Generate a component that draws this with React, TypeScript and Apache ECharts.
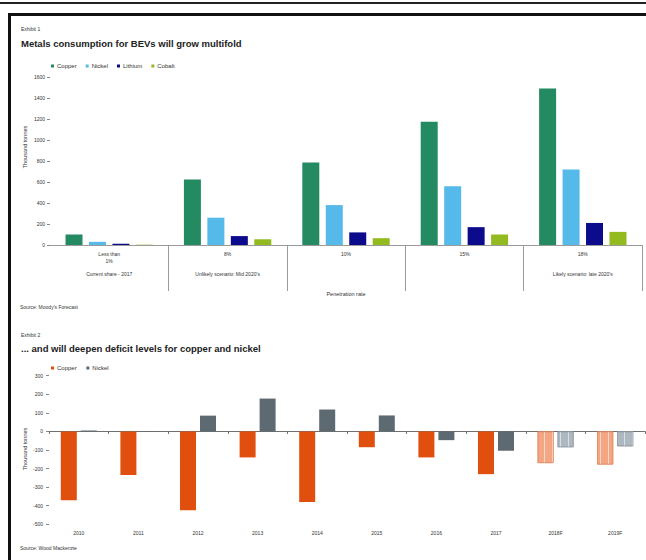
import { useEffect, useRef } from "react";
import * as echarts from "echarts";

// Exhibit 1: metal demand from battery electric vehicles by penetration rate
const penetrationRates = ["Less than\n1%", "8%", "10%", "15%", "18%"];
const scenarios = ["Current share - 2017", "Unlikely scenario: Mid 2020's", "", "", "Likely scenario: late 2020's"];
const copperDemand = [100, 625, 785, 1175, 1490];
const nickelDemand = [30, 260, 380, 560, 720];
const lithiumDemand = [12, 85, 120, 170, 210];
const cobaltDemand = [3, 55, 65, 100, 125];
const demandAxis = { min: 0, max: 1600, interval: 200 };

// Exhibit 2: market balance (deficit / surplus) per year
const years = ["2010", "2011", "2012", "2013", "2014", "2015", "2016", "2017", "2018F", "2019F"];
const forecastYears = ["2018F", "2019F"];
const copperBalance = [-370, -235, -425, -140, -380, -85, -140, -230, -170, -178];
const nickelBalance = [5, 2, 85, 177, 118, 86, -47, -104, -85, -80];
const balanceAxis = { min: -500, max: 300, interval: 100 };

const FONT = "'Liberation Sans Narrow', 'Liberation Sans', Arial, sans-serif";
const INK = "#333";

const COLORS = {
  copper: "#248a62",
  nickel: "#55b9ea",
  lithium: "#0b0b8c",
  cobalt: "#93bb1f",
  copperBal: "#e04f0e",
  nickelBal: "#5e6a72",
  copperFc: "#f2a683",
  copperFcEdge: "#e2845a",
  nickelFc: "#adb8c0",
  nickelFcEdge: "#8d99a1",
};

function buildOption(): echarts.EChartsCoreOption {
  const small = { fontFamily: FONT, fontSize: 5, color: INK };
  const plainNumber = (v: number) => String(v);

  const balanceData = (values: number[], base: string, fc: string, edge: string) =>
    values.map((v, i) =>
      forecastYears.includes(years[i])
        ? {
            value: v,
            itemStyle: {
              color: fc,
              borderColor: edge,
              borderWidth: 0.6,
              decal: {
                symbol: "rect",
                symbolSize: 1,
                color: "rgba(255,255,255,0.55)",
                dashArrayX: [1, 7],
                dashArrayY: [10, 0],
              },
            },
          }
        : { value: v, itemStyle: { color: base } }
    );

  const legendText = { ...small, fontSize: 6, padding: [0, 0, 0, -2] };

  return {
    animation: false,
    backgroundColor: "#fff",
    textStyle: { fontFamily: FONT },
    grid: [
      { left: 50, right: 4, top: 77, height: 168 },
      { left: 49, right: 1, top: 375.7, height: 148.6 },
    ],
    legend: [
      {
        data: ["Copper", "Nickel", "Lithium", "Cobalt"],
        left: 46,
        top: 58,
        icon: "rect",
        itemWidth: 3,
        itemHeight: 3,
        itemGap: 9,
        textStyle: legendText,
      },
      {
        data: ["Copper ", "Nickel "],
        left: 46,
        top: 360,
        icon: "rect",
        itemWidth: 3,
        itemHeight: 3,
        itemGap: 8,
        textStyle: legendText,
      },
    ],
    xAxis: [
      {
        gridIndex: 0,
        type: "category",
        data: penetrationRates,
        axisLine: { lineStyle: { color: "#9a9a9a", width: 1 } },
        axisTick: {
          show: true,
          interval: (index: number) => index > 0,
          length: 46,
          lineStyle: { color: "#9a9a9a" },
        },
        axisLabel: {
          ...small,
          interval: 0,
          margin: 6,
          lineHeight: 6.5,
          formatter: (value: string, index: number) => {
            const scenario = scenarios[index];
            if (!scenario) return value;
            const lines = value.split("\n").length;
            return value + "\n".repeat(4 - lines) + scenario;
          },
        },
        name: "Penetration rate",
        nameLocation: "middle",
        nameGap: 46,
        nameTextStyle: { ...small, fontSize: 5.5 },
      },
      {
        gridIndex: 1,
        type: "category",
        data: years,
        axisLine: { onZero: true, lineStyle: { color: "#6f6f6f", width: 1 } },
        axisTick: { show: true, length: 2.5, lineStyle: { color: "#6f6f6f" } },
        axisLabel: { show: false },
      },
      {
        gridIndex: 1,
        type: "category",
        data: years,
        position: "bottom",
        axisLine: { show: false, onZero: false },
        axisTick: { show: false },
        axisLabel: { ...small, interval: 0, margin: 6.5 },
      },
    ],
    yAxis: [
      {
        gridIndex: 0,
        type: "value",
        ...demandAxis,
        axisLine: { show: false },
        axisTick: { show: true, length: 3, lineStyle: { color: "#888" } },
        splitLine: { show: false },
        axisLabel: { ...small, margin: 5, formatter: plainNumber },
      },
      {
        gridIndex: 1,
        type: "value",
        ...balanceAxis,
        axisLine: { show: false },
        axisTick: { show: true, length: 3, lineStyle: { color: "#888" } },
        splitLine: { show: false },
        axisLabel: { ...small, margin: 6, formatter: plainNumber },
      },
    ],
    series: [
      { name: "Copper", type: "bar", xAxisIndex: 0, yAxisIndex: 0, data: copperDemand, itemStyle: { color: COLORS.copper }, barWidth: 17, barGap: "38%" },
      { name: "Nickel", type: "bar", xAxisIndex: 0, yAxisIndex: 0, data: nickelDemand, itemStyle: { color: COLORS.nickel }, barWidth: 17, barGap: "38%" },
      { name: "Lithium", type: "bar", xAxisIndex: 0, yAxisIndex: 0, data: lithiumDemand, itemStyle: { color: COLORS.lithium }, barWidth: 17, barGap: "38%" },
      { name: "Cobalt", type: "bar", xAxisIndex: 0, yAxisIndex: 0, data: cobaltDemand, itemStyle: { color: COLORS.cobalt }, barWidth: 17, barGap: "38%" },
      {
        name: "Copper ",
        type: "bar",
        xAxisIndex: 1,
        yAxisIndex: 1,
        data: balanceData(copperBalance, COLORS.copperBal, COLORS.copperFc, COLORS.copperFcEdge),
        itemStyle: { color: COLORS.copperBal },
        barWidth: 16,
        barGap: "25%",
      },
      {
        name: "Nickel ",
        type: "bar",
        xAxisIndex: 1,
        yAxisIndex: 1,
        data: balanceData(nickelBalance, COLORS.nickelBal, COLORS.nickelFc, COLORS.nickelFcEdge),
        itemStyle: { color: COLORS.nickelBal },
        barWidth: 16,
        barGap: "25%",
      },
    ],
    graphic: [
      // page rule and framed panel
      { type: "line", shape: { x1: 0, y1: 3, x2: 646, y2: 3 }, style: { stroke: "#222", lineWidth: 2 } },
      { type: "line", shape: { x1: 8, y1: 14.5, x2: 646, y2: 14.5 }, style: { stroke: "#111", lineWidth: 3 } },
      { type: "line", shape: { x1: 9.5, y1: 13, x2: 9.5, y2: 560 }, style: { stroke: "#111", lineWidth: 3 } },
      // Exhibit 1 headings
      { type: "text", x: 21, y: 29, style: { text: "Exhibit 1", fontFamily: FONT, fontSize: 5, fill: INK, verticalAlign: "middle" } },
      {
        type: "text",
        x: 21,
        y: 43,
        style: { text: "Metals consumption for BEVs will grow multifold", fontFamily: FONT, fontSize: 9.5, fontWeight: "bold", fill: "#222", verticalAlign: "middle" },
      },
      {
        type: "text",
        x: 25,
        y: 147,
        rotation: Math.PI / 2,
        style: { text: "Thousand tonnes", fontFamily: FONT, fontSize: 5.5, fill: INK, align: "center", verticalAlign: "middle" },
      },
      { type: "text", x: 20, y: 307, style: { text: "Source: Moody's Forecast", fontFamily: FONT, fontSize: 5, fill: INK, verticalAlign: "middle" } },
      // Exhibit 2 headings
      { type: "text", x: 21, y: 335, style: { text: "Exhibit 2", fontFamily: FONT, fontSize: 5, fill: INK, verticalAlign: "middle" } },
      {
        type: "text",
        x: 21,
        y: 348,
        style: { text: "... and will deepen deficit levels for copper and nickel", fontFamily: FONT, fontSize: 9.5, fontWeight: "bold", fill: "#222", verticalAlign: "middle" },
      },
      {
        type: "text",
        x: 25,
        y: 449,
        rotation: Math.PI / 2,
        style: { text: "Thousand tonnes", fontFamily: FONT, fontSize: 5.5, fill: INK, align: "center", verticalAlign: "middle" },
      },
      { type: "text", x: 20, y: 548, style: { text: "Source: Wood Mackenzie", fontFamily: FONT, fontSize: 5, fill: INK, verticalAlign: "middle" } },
    ],
  };
}

export default function App() {
  const ref = useRef<HTMLDivElement>(null);

  useEffect(() => {
    if (!ref.current) return;
    const chart = echarts.init(ref.current, undefined, { renderer: "svg" });
    chart.setOption(buildOption());
    return () => chart.dispose();
  }, []);

  return (
    <div
      ref={ref}
      style={{ position: "absolute", left: 0, top: 0, width: 646, height: 560, background: "#fff" }}
    />
  );
}
